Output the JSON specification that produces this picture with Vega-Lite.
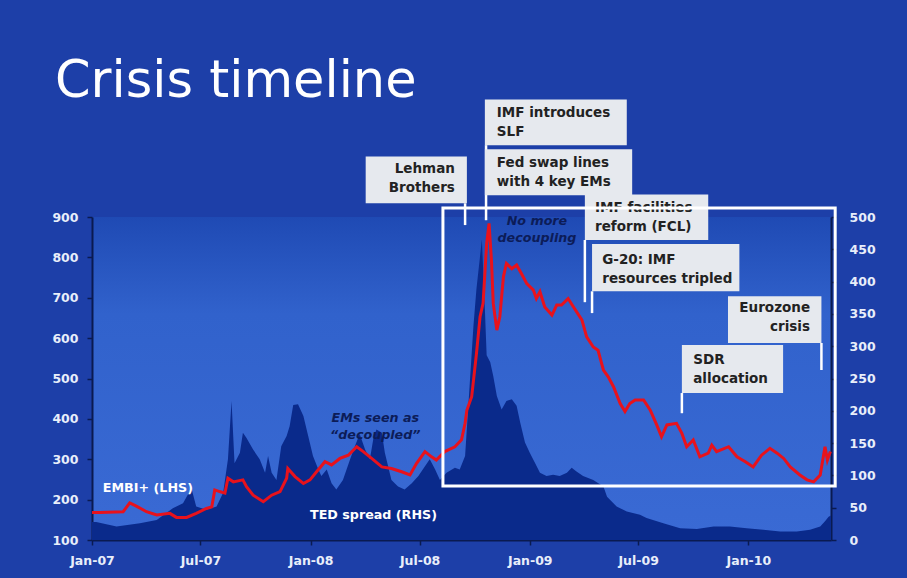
{
  "$schema": "https://vega.github.io/schema/vega-lite/v6.json",
  "autosize": "none",
  "width": 739,
  "height": 323,
  "padding": {"left": 92, "top": 217, "right": 76, "bottom": 38},
  "background": "#1d3fa8",
  "config": {
    "font": "DejaVu Sans",
    "view": {"stroke": null, "fill": {"gradient": "linear", "x1": 0, "y1": 0, "x2": 0, "y2": 1, "stops": [{"offset": 0, "color": "#1f4ab4"}, {"offset": 0.3, "color": "#3162cc"}, {"offset": 1, "color": "#3a6ad4"}]}},
    "axis": {
      "grid": false,
      "title": null,
      "domainColor": "#0a1a50",
      "domainWidth": 2,
      "tickColor": "#0a1a50",
      "tickSize": 5,
      "tickWidth": 1.5,
      "labelColor": "#e8eefa",
      "labelFont": "DejaVu Sans",
      "labelFontWeight": "bold",
      "labelFontSize": 12.5,
      "labelPadding": 9,
      "labelFlush": false,
      "labelOverlap": false
    }
  },
  "title": {
    "text": "Crisis timeline",
    "anchor": "start",
    "frame": "group",
    "font": "DejaVu Sans",
    "fontSize": 51,
    "fontWeight": "normal",
    "color": "#ffffff",
    "baseline": "alphabetic",
    "offset": -48,
    "dx": -37
  },
  "datasets": {
    "ted": [
      {"date": "2007-01-01", "ted": 28}, {"date": "2007-01-08", "ted": 28}, {"date": "2007-02-11", "ted": 21},
      {"date": "2007-03-22", "ted": 26}, {"date": "2007-04-19", "ted": 31}, {"date": "2007-05-16", "ted": 49},
      {"date": "2007-06-02", "ted": 57}, {"date": "2007-06-16", "ted": 80}, {"date": "2007-06-24", "ted": 52},
      {"date": "2007-07-11", "ted": 47}, {"date": "2007-07-28", "ted": 52}, {"date": "2007-08-08", "ted": 73},
      {"date": "2007-08-16", "ted": 125}, {"date": "2007-08-22", "ted": 215}, {"date": "2007-08-27", "ted": 119},
      {"date": "2007-09-05", "ted": 135}, {"date": "2007-09-10", "ted": 166}, {"date": "2007-09-16", "ted": 158},
      {"date": "2007-09-27", "ted": 140}, {"date": "2007-10-08", "ted": 125}, {"date": "2007-10-17", "ted": 104},
      {"date": "2007-10-22", "ted": 130}, {"date": "2007-10-28", "ted": 104}, {"date": "2007-11-05", "ted": 93},
      {"date": "2007-11-13", "ted": 145}, {"date": "2007-11-22", "ted": 161}, {"date": "2007-11-27", "ted": 176},
      {"date": "2007-12-03", "ted": 209}, {"date": "2007-12-11", "ted": 210}, {"date": "2007-12-20", "ted": 192},
      {"date": "2007-12-28", "ted": 161}, {"date": "2008-01-05", "ted": 130}, {"date": "2008-01-14", "ted": 109},
      {"date": "2008-01-19", "ted": 99}, {"date": "2008-01-28", "ted": 109}, {"date": "2008-02-05", "ted": 88},
      {"date": "2008-02-13", "ted": 78}, {"date": "2008-02-24", "ted": 93}, {"date": "2008-03-07", "ted": 125},
      {"date": "2008-03-15", "ted": 145}, {"date": "2008-03-23", "ted": 164}, {"date": "2008-04-01", "ted": 140},
      {"date": "2008-04-09", "ted": 125}, {"date": "2008-04-15", "ted": 158}, {"date": "2008-04-20", "ted": 171},
      {"date": "2008-04-29", "ted": 166}, {"date": "2008-05-04", "ted": 135}, {"date": "2008-05-15", "ted": 93},
      {"date": "2008-05-26", "ted": 83}, {"date": "2008-06-06", "ted": 78}, {"date": "2008-06-18", "ted": 88},
      {"date": "2008-06-29", "ted": 99}, {"date": "2008-07-10", "ted": 114}, {"date": "2008-07-18", "ted": 125},
      {"date": "2008-07-27", "ted": 109}, {"date": "2008-08-04", "ted": 93}, {"date": "2008-08-15", "ted": 104},
      {"date": "2008-08-29", "ted": 112}, {"date": "2008-09-06", "ted": 109}, {"date": "2008-09-15", "ted": 130},
      {"date": "2008-09-20", "ted": 202}, {"date": "2008-09-29", "ted": 332}, {"date": "2008-10-04", "ted": 389},
      {"date": "2008-10-13", "ted": 465}, {"date": "2008-10-18", "ted": 358}, {"date": "2008-10-21", "ted": 286},
      {"date": "2008-10-27", "ted": 275}, {"date": "2008-11-01", "ted": 254}, {"date": "2008-11-07", "ted": 223},
      {"date": "2008-11-15", "ted": 202}, {"date": "2008-11-23", "ted": 215}, {"date": "2008-12-02", "ted": 218},
      {"date": "2008-12-10", "ted": 208}, {"date": "2008-12-16", "ted": 182}, {"date": "2008-12-24", "ted": 151},
      {"date": "2009-01-01", "ted": 135}, {"date": "2009-01-10", "ted": 119}, {"date": "2009-01-18", "ted": 104},
      {"date": "2009-01-29", "ted": 99}, {"date": "2009-02-09", "ted": 101}, {"date": "2009-02-20", "ted": 99},
      {"date": "2009-03-04", "ted": 104}, {"date": "2009-03-12", "ted": 112}, {"date": "2009-03-20", "ted": 106},
      {"date": "2009-03-31", "ted": 99}, {"date": "2009-04-17", "ted": 93}, {"date": "2009-05-04", "ted": 83},
      {"date": "2009-05-10", "ted": 67}, {"date": "2009-05-26", "ted": 52}, {"date": "2009-06-12", "ted": 44},
      {"date": "2009-07-04", "ted": 39}, {"date": "2009-07-15", "ted": 34}, {"date": "2009-08-12", "ted": 26},
      {"date": "2009-09-09", "ted": 18}, {"date": "2009-10-07", "ted": 17}, {"date": "2009-11-04", "ted": 21},
      {"date": "2009-12-01", "ted": 21}, {"date": "2009-12-29", "ted": 18}, {"date": "2010-01-26", "ted": 16},
      {"date": "2010-02-23", "ted": 13}, {"date": "2010-03-23", "ted": 13}, {"date": "2010-04-14", "ted": 16},
      {"date": "2010-05-01", "ted": 21}, {"date": "2010-05-09", "ted": 29}, {"date": "2010-05-15", "ted": 36},
      {"date": "2010-05-19", "ted": 38}
    ],
    "embi": [
      {"date": "2007-01-01", "embi": 168}, {"date": "2007-01-14", "embi": 168}, {"date": "2007-02-22", "embi": 170},
      {"date": "2007-03-05", "embi": 192}, {"date": "2007-03-16", "embi": 184}, {"date": "2007-04-02", "embi": 170},
      {"date": "2007-04-19", "embi": 162}, {"date": "2007-05-11", "embi": 166}, {"date": "2007-05-22", "embi": 156},
      {"date": "2007-06-08", "embi": 156}, {"date": "2007-06-24", "embi": 166}, {"date": "2007-07-11", "embi": 178},
      {"date": "2007-07-20", "embi": 182}, {"date": "2007-07-25", "embi": 224}, {"date": "2007-08-02", "embi": 220},
      {"date": "2007-08-11", "embi": 216}, {"date": "2007-08-16", "embi": 253}, {"date": "2007-08-25", "embi": 244},
      {"date": "2007-09-10", "embi": 249}, {"date": "2007-09-16", "embi": 232}, {"date": "2007-09-27", "embi": 211},
      {"date": "2007-10-14", "embi": 195}, {"date": "2007-10-28", "embi": 211}, {"date": "2007-11-11", "embi": 220},
      {"date": "2007-11-22", "embi": 253}, {"date": "2007-11-24", "embi": 277}, {"date": "2007-12-06", "embi": 257},
      {"date": "2007-12-20", "embi": 240}, {"date": "2007-12-31", "embi": 249}, {"date": "2008-01-11", "embi": 269},
      {"date": "2008-01-25", "embi": 294}, {"date": "2008-02-05", "embi": 286}, {"date": "2008-02-19", "embi": 302},
      {"date": "2008-03-04", "embi": 310}, {"date": "2008-03-18", "embi": 331}, {"date": "2008-03-29", "embi": 319},
      {"date": "2008-04-12", "embi": 302}, {"date": "2008-04-29", "embi": 281}, {"date": "2008-05-15", "embi": 277},
      {"date": "2008-06-01", "embi": 269}, {"date": "2008-06-15", "embi": 261}, {"date": "2008-06-26", "embi": 290},
      {"date": "2008-07-10", "embi": 319}, {"date": "2008-07-21", "embi": 306}, {"date": "2008-07-29", "embi": 298},
      {"date": "2008-08-12", "embi": 319}, {"date": "2008-08-29", "embi": 331}, {"date": "2008-09-09", "embi": 348},
      {"date": "2008-09-15", "embi": 389}, {"date": "2008-09-18", "embi": 422}, {"date": "2008-09-26", "embi": 455},
      {"date": "2008-10-04", "embi": 562}, {"date": "2008-10-10", "embi": 653}, {"date": "2008-10-15", "embi": 686},
      {"date": "2008-10-21", "embi": 834}, {"date": "2008-10-25", "embi": 884}, {"date": "2008-10-29", "embi": 793},
      {"date": "2008-11-01", "embi": 686}, {"date": "2008-11-07", "embi": 620}, {"date": "2008-11-12", "embi": 653},
      {"date": "2008-11-18", "embi": 752}, {"date": "2008-11-23", "embi": 785}, {"date": "2008-12-02", "embi": 772},
      {"date": "2008-12-10", "embi": 781}, {"date": "2008-12-18", "embi": 760}, {"date": "2008-12-27", "embi": 735},
      {"date": "2009-01-07", "embi": 719}, {"date": "2009-01-12", "embi": 698}, {"date": "2009-01-18", "embi": 715},
      {"date": "2009-01-26", "embi": 677}, {"date": "2009-02-07", "embi": 657}, {"date": "2009-02-15", "embi": 682},
      {"date": "2009-02-23", "embi": 682}, {"date": "2009-03-06", "embi": 698}, {"date": "2009-03-15", "embi": 677},
      {"date": "2009-03-29", "embi": 645}, {"date": "2009-04-06", "embi": 603}, {"date": "2009-04-17", "embi": 578},
      {"date": "2009-04-25", "embi": 570}, {"date": "2009-05-04", "embi": 521}, {"date": "2009-05-12", "embi": 504},
      {"date": "2009-05-21", "embi": 479}, {"date": "2009-06-01", "embi": 438}, {"date": "2009-06-09", "embi": 418},
      {"date": "2009-06-17", "embi": 438}, {"date": "2009-06-26", "embi": 447}, {"date": "2009-07-10", "embi": 447},
      {"date": "2009-07-21", "embi": 422}, {"date": "2009-08-01", "embi": 385}, {"date": "2009-08-09", "embi": 356},
      {"date": "2009-08-18", "embi": 385}, {"date": "2009-09-03", "embi": 389}, {"date": "2009-09-12", "embi": 364},
      {"date": "2009-09-20", "embi": 331}, {"date": "2009-10-01", "embi": 348}, {"date": "2009-10-12", "embi": 306},
      {"date": "2009-10-26", "embi": 315}, {"date": "2009-11-01", "embi": 335}, {"date": "2009-11-09", "embi": 319},
      {"date": "2009-11-29", "embi": 331}, {"date": "2009-12-13", "embi": 306}, {"date": "2009-12-27", "embi": 294},
      {"date": "2010-01-09", "embi": 281}, {"date": "2010-01-23", "embi": 310}, {"date": "2010-02-06", "embi": 327},
      {"date": "2010-02-18", "embi": 315}, {"date": "2010-03-01", "embi": 302}, {"date": "2010-03-12", "embi": 281},
      {"date": "2010-03-28", "embi": 261}, {"date": "2010-04-09", "embi": 249}, {"date": "2010-04-20", "embi": 244},
      {"date": "2010-05-01", "embi": 261}, {"date": "2010-05-09", "embi": 331}, {"date": "2010-05-13", "embi": 298},
      {"date": "2010-05-18", "embi": 319}
    ],
    "boxes": [
      {"event": "Lehman Brothers", "start": "2008-04-02", "end": "2008-09-18", "low": 934, "high": 1050},
      {"event": "IMF introduces SLF", "start": "2008-10-18", "end": "2009-06-12", "low": 1078, "high": 1191},
      {"event": "Fed swap lines", "start": "2008-10-18", "end": "2009-06-21", "low": 954, "high": 1068},
      {"event": "IMF facilities reform", "start": "2009-04-03", "end": "2009-10-26", "low": 843, "high": 956},
      {"event": "G-20", "start": "2009-04-15", "end": "2009-12-17", "low": 716, "high": 833},
      {"event": "Eurozone crisis", "start": "2009-11-28", "end": "2010-05-03", "low": 588, "high": 704},
      {"event": "SDR allocation", "start": "2009-09-12", "end": "2010-02-28", "low": 464, "high": 583}
    ],
    "pointers": [
      {"event": "Lehman Brothers", "date": "2008-09-15", "from": 934, "to": 880},
      {"event": "IMF introduces SLF", "date": "2008-10-20", "from": 1078, "to": 892},
      {"event": "IMF facilities reform", "date": "2009-04-03", "from": 843, "to": 689},
      {"event": "G-20", "date": "2009-04-15", "from": 716, "to": 662},
      {"event": "Eurozone crisis", "date": "2010-05-03", "from": 588, "to": 521},
      {"event": "SDR allocation", "date": "2009-09-12", "from": 464, "to": 414}
    ],
    "calloutsLeft": [
      {"text": "IMF introduces\nSLF", "date": "2008-11-07", "level": 1157},
      {"text": "Fed swap lines\nwith 4 key EMs", "date": "2008-11-07", "level": 1033},
      {"text": "IMF facilities\nreform (FCL)", "date": "2009-04-20", "level": 922},
      {"text": "G-20: IMF\nresources tripled", "date": "2009-05-02", "level": 793},
      {"text": "SDR\nallocation", "date": "2009-10-01", "level": 545}
    ],
    "calloutsRight": [
      {"text": "Lehman\nBrothers", "date": "2008-08-29", "level": 1018},
      {"text": "Eurozone\ncrisis", "date": "2010-04-14", "level": 674}
    ],
    "comments": [
      {"text": "No more\ndecoupling", "date": "2009-01-13", "level": 890},
      {"text": "EMs seen as\n“decoupled”", "date": "2008-04-18", "level": 402}
    ],
    "seriesLabels": [
      {"text": "EMBI+ (LHS)", "date": "2007-01-19", "level": 229},
      {"text": "TED spread (RHS)", "date": "2007-12-31", "level": 162}
    ],
    "focus": [
      {"start": "2008-08-09", "end": "2010-05-26", "low": 234, "high": 922}
    ]
  },
  "layer": [
    {
      "data": {"name": "ted"},
      "mark": {"type": "area", "color": "#0a2a8b", "opacity": 1},
      "encoding": {
        "x": {
          "field": "date", "type": "temporal",
          "scale": {"type": "utc", "domain": [{"year": 2007, "month": 1, "date": 1, "utc": true}, {"year": 2010, "month": 5, "date": 19, "utc": true}]},
          "axis": {
            "format": "%b-%y",
            "values": [
              {"year": 2007, "month": 1, "date": 1, "utc": true},
              {"year": 2007, "month": 7, "date": 1, "utc": true},
              {"year": 2008, "month": 1, "date": 1, "utc": true},
              {"year": 2008, "month": 7, "date": 1, "utc": true},
              {"year": 2009, "month": 1, "date": 1, "utc": true},
              {"year": 2009, "month": 7, "date": 1, "utc": true},
              {"year": 2010, "month": 1, "date": 1, "utc": true}
            ]
          }
        },
        "y": {
          "field": "ted", "type": "quantitative",
          "scale": {"domain": [0, 500], "nice": false, "zero": true},
          "axis": {"orient": "right", "values": [0, 50, 100, 150, 200, 250, 300, 350, 400, 450, 500], "labelPadding": 13}
        }
      }
    },
    {
      "layer": [
        {
          "data": {"name": "embi"},
          "mark": {"type": "line", "color": "#e8121c", "strokeWidth": 3},
          "encoding": {
            "x": {"field": "date", "type": "temporal", "scale": {"type": "utc", "domain": [{"year": 2007, "month": 1, "date": 1, "utc": true}, {"year": 2010, "month": 5, "date": 19, "utc": true}]}},
            "y": {
              "field": "embi", "type": "quantitative",
              "scale": {"domain": [100, 900], "nice": false, "zero": false},
              "axis": {"orient": "left", "values": [100, 200, 300, 400, 500, 600, 700, 800, 900]}
            }
          }
        },
        {
          "data": {"name": "pointers"},
          "mark": {"type": "rule", "color": "#ffffff", "strokeWidth": 2.5, "clip": false},
          "encoding": {
            "x": {"field": "date", "type": "temporal"},
            "y": {"field": "from", "type": "quantitative", "scale": {"domain": [100, 900], "nice": false, "zero": false}},
            "y2": {"field": "to"}
          }
        },
        {
          "data": {"name": "boxes"},
          "mark": {"type": "rect", "color": "#e6e9ee", "clip": false},
          "encoding": {
            "x": {"field": "start", "type": "temporal"},
            "x2": {"field": "end"},
            "y": {"field": "low", "type": "quantitative", "scale": {"domain": [100, 900], "nice": false, "zero": false}},
            "y2": {"field": "high"}
          }
        },
        {
          "data": {"name": "calloutsLeft"},
          "mark": {"type": "text", "align": "left", "baseline": "middle", "lineBreak": "\n", "lineHeight": 19, "font": "DejaVu Sans", "fontSize": 13.5, "fontWeight": "bold", "color": "#222222", "clip": false},
          "encoding": {
            "x": {"field": "date", "type": "temporal"},
            "y": {"field": "level", "type": "quantitative", "scale": {"domain": [100, 900], "nice": false, "zero": false}},
            "text": {"field": "text"}
          }
        },
        {
          "data": {"name": "calloutsRight"},
          "mark": {"type": "text", "align": "right", "baseline": "middle", "lineBreak": "\n", "lineHeight": 19, "font": "DejaVu Sans", "fontSize": 13.5, "fontWeight": "bold", "color": "#222222", "clip": false},
          "encoding": {
            "x": {"field": "date", "type": "temporal"},
            "y": {"field": "level", "type": "quantitative", "scale": {"domain": [100, 900], "nice": false, "zero": false}},
            "text": {"field": "text"}
          }
        },
        {
          "data": {"name": "focus"},
          "mark": {"type": "rect", "fill": null, "fillOpacity": 0, "stroke": "#ffffff", "strokeWidth": 3, "clip": false},
          "encoding": {
            "x": {"field": "start", "type": "temporal"},
            "x2": {"field": "end"},
            "y": {"field": "low", "type": "quantitative", "scale": {"domain": [100, 900], "nice": false, "zero": false}},
            "y2": {"field": "high"}
          }
        },
        {
          "data": {"name": "comments"},
          "mark": {"type": "text", "align": "center", "baseline": "middle", "lineBreak": "\n", "lineHeight": 17, "font": "DejaVu Sans", "fontSize": 12.7, "fontStyle": "italic", "fontWeight": "bold", "color": "#0c1c58", "clip": false},
          "encoding": {
            "x": {"field": "date", "type": "temporal"},
            "y": {"field": "level", "type": "quantitative", "scale": {"domain": [100, 900], "nice": false, "zero": false}},
            "text": {"field": "text"}
          }
        },
        {
          "data": {"name": "seriesLabels"},
          "mark": {"type": "text", "align": "left", "baseline": "middle", "font": "DejaVu Sans", "fontSize": 12.7, "fontWeight": "bold", "color": "#ffffff", "clip": false},
          "encoding": {
            "x": {"field": "date", "type": "temporal"},
            "y": {"field": "level", "type": "quantitative", "scale": {"domain": [100, 900], "nice": false, "zero": false}},
            "text": {"field": "text"}
          }
        }
      ]
    }
  ],
  "resolve": {"scale": {"y": "independent"}}
}
